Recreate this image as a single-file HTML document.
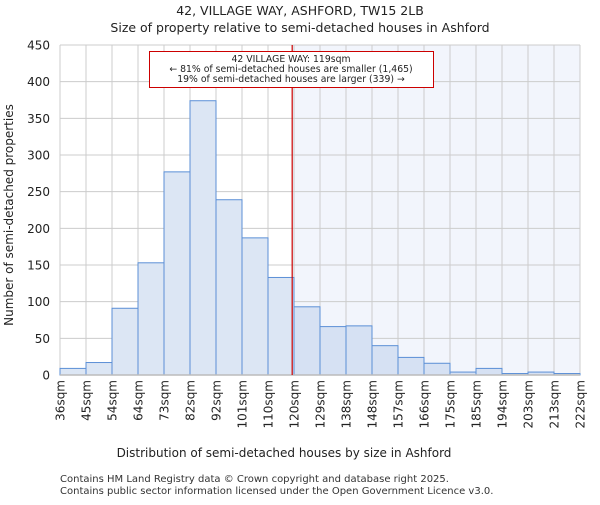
<!DOCTYPE html>
<html><head><meta charset="utf-8"><style>
body{margin:0;background:#fff;font-family:"Liberation Sans","DejaVu Sans",sans-serif}
svg text{font-family:"DejaVu Sans","Liberation Sans",sans-serif}
</style></head><body>
<svg id="c" width="600" height="500" xmlns="http://www.w3.org/2000/svg">
<text x="300" y="15" text-anchor="middle" font-size="12.5" fill="#222">42, VILLAGE WAY, ASHFORD, TW15 2LB</text>
<text x="300" y="32" text-anchor="middle" font-size="12.5" fill="#222">Size of property relative to semi-detached houses in Ashford</text>
<g id="plot"></g>
<text x="284" y="457" text-anchor="middle" font-size="12" fill="#222">Distribution of semi-detached houses by size in Ashford</text>
<text transform="translate(13,215) rotate(-90)" text-anchor="middle" font-size="12" fill="#222">Number of semi-detached properties</text>
<text x="60" y="482" font-size="10" fill="#333">Contains HM Land Registry data © Crown copyright and database right 2025.</text>
<text x="60" y="494" font-size="10" fill="#333">Contains public sector information licensed under the Open Government Licence v3.0.</text>
</svg>
<script>
const binLabels=["36sqm","45sqm","54sqm","64sqm","73sqm","82sqm","92sqm","101sqm","110sqm","120sqm","129sqm","138sqm","148sqm","157sqm","166sqm","175sqm","185sqm","194sqm","203sqm","213sqm","222sqm"];
const counts=[9,17,91,153,277,374,239,187,133,93,66,67,40,24,16,4,9,2,4,2];
const yTicks=[0,50,100,150,200,250,300,350,400,450];
const propertyPos=8.93;
const NS="http://www.w3.org/2000/svg";
const L=60,R=580,T=45,B=375,yMax=450;
const nb=counts.length;
const x=i=>L+(R-L)*i/nb;
const y=v=>B-(B-T)*v/yMax;
const g=document.getElementById('plot');
function mk(t,a){const e=document.createElementNS(NS,t);for(const k in a)e.setAttribute(k,a[k]);g.appendChild(e);return e;}
const px=x(propertyPos);
let bg=mk('rect',{x:px,y:T,width:R-px,height:B-T,fill:'#f2f5fc'});


yTicks.forEach(v=>{
 let l=mk('line',{x1:L,x2:R,y1:y(v),y2:y(v),stroke:'#ccc','stroke-width':1});
 
 
 let t=mk('text',{x:L-10,y:y(v)+4.5,'text-anchor':'end','font-size':12,fill:'#222'});
 t.textContent=v;
 
 
});
binLabels.forEach((s,i)=>{
 let l=mk('line',{x1:x(i),x2:x(i),y1:T,y2:B,stroke:'#ccc','stroke-width':1});
 
 
 const cx=x(i)+4.5, cy=B+5;
 let t=mk('text',{x:cx,y:cy,'text-anchor':'end','font-size':12,fill:'#222'});
 t.setAttribute('transform','rotate(-90 '+cx+' '+cy+')');
 t.textContent=s;
 
 
});
counts.forEach((v,i)=>{
 let r=mk('rect',{x:x(i),y:y(v),width:x(i+1)-x(i),height:B-y(v),fill:i<propertyPos?'#dce6f4':'#d6e1f3',stroke:'#5b8fd6','stroke-width':1});
 
 
});
let ax=mk('line',{x1:L,x2:R,y1:B,y2:B,stroke:'#bbb','stroke-width':1.5});


let rl=mk('line',{x1:px,x2:px,y1:T,y2:B,stroke:'#c00','stroke-width':1.2});


let box=mk('rect',{x:149.5,y:51.5,width:284,height:36,fill:'#fff',stroke:'#c00','stroke-width':1});


["42 VILLAGE WAY: 119sqm","← 81% of semi-detached houses are smaller (1,465)","19% of semi-detached houses are larger (339) →"].forEach((s,i)=>{
 let t=mk('text',{x:291,y:62+i*10,'text-anchor':'middle','font-size':9.3,fill:'#222'});
 t.textContent=s;
 
 
});
</script>
</body></html>
